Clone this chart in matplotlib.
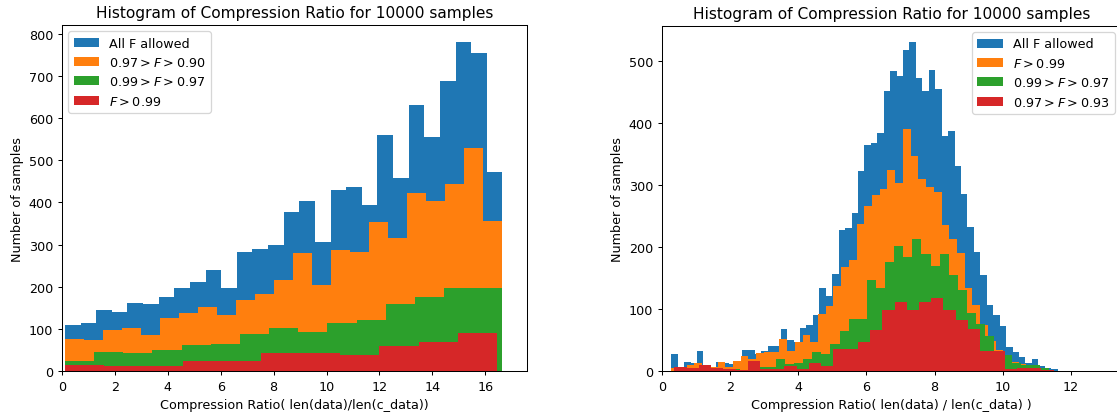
import numpy as np
import matplotlib
matplotlib.use("Agg")
import matplotlib.pyplot as plt


# left panel: counts per bin for each fidelity cut, and the (min, max) each was binned over
left_labels = ["All F allowed", r"$0.97 > F > 0.90$", r"$0.99 > F > 0.97$", r"$F > 0.99$"]
left_all = [109, 113, 145, 141, 162, 158, 176, 197, 211, 239, 197, 283, 290, 298,
            378, 403, 306, 429, 437, 394, 560, 459, 632, 556, 688, 780, 755, 472]
left_090 = [77, 73, 97, 103, 86, 126, 138, 153, 132, 169, 183, 217, 279, 205, 286,
            282, 354, 315, 422, 403, 444, 529, 355]
left_097 = [24, 45, 43, 49, 62, 63, 87, 102, 93, 113, 120, 159, 175, 196, 196]
left_099 = [15, 12, 12, 23, 23, 43, 43, 38, 59, 69, 89]
left_ranges = [(0.11, 16.65), (0.11, 16.65), (0.11, 16.65), (0.11, 16.45)]

# right panel
right_labels = ["All F allowed", r"$F > 0.99$", r"$0.99 > F > 0.97$", r"$0.97 > F > 0.93$"]
right_all = [27, 6, 14, 13, 33, 8, 6, 15, 13, 12, 15, 34, 34, 27, 33, 40, 40, 68, 50, 47,
             69, 74, 90, 134, 121, 156, 227, 230, 255, 323, 365, 367, 384, 452, 484, 476,
             517, 530, 473, 451, 485, 454, 379, 387, 330, 285, 232, 191, 155, 106, 91, 73,
             39, 30, 22, 13, 20, 8, 5, 3]
right_099 = [5, 6, 10, 13, 7, 6, 14, 7, 16, 24, 20, 29, 30, 31, 52, 33, 47, 58, 46, 92,
             105, 137, 168, 179, 237, 266, 284, 293, 324, 303, 390, 346, 309, 297, 289,
             235, 212, 190, 133, 107, 74, 48, 34, 15, 15, 12, 6, 3]
right_097 = [0, 1, 1, 3, 1, 1, 2, 3, 2, 2, 7, 7, 19, 11, 13, 20, 31, 28, 43, 65, 83, 84,
             147, 133, 175, 202, 184, 213, 188, 170, 188, 155, 130, 93, 75, 56, 33, 25,
             13, 10, 9, 5]
right_093 = [6, 5, 9, 5, 4, 2, 16, 4, 3, 8, 4, 13, 8, 35, 36, 47, 66, 98, 112, 98, 112,
             117, 99, 82, 68, 32, 32, 3, 5, 5, 2]
right_ranges = [(0.27, 11.61), (0.27, 11.15), (0.14, 11.35), (0.364, 11.49)]

colors = ["tab:blue", "tab:orange", "tab:green", "tab:red"]


def draw_hists(ax, series, ranges, labels):
    for counts, (lo, hi), lab, col in zip(series, ranges, labels, colors):
        edges = np.linspace(lo, hi, len(counts) + 1)
        ax.stairs(counts, edges, fill=True, color=col, label=lab)


def main():
    W, H, dpi = 1117, 416, 92
    fig = plt.figure(figsize=(W / dpi, H / dpi), dpi=dpi)

    # Left
    ax1 = fig.add_axes([62 / W, 44 / H, 465 / W, 346 / H])
    draw_hists(ax1, [left_all, left_090, left_097, left_099], left_ranges, left_labels)
    ax1.set_xlim(0, 17.58)
    ax1.set_ylim(0, 821)
    ax1.set_title("Histogram of Compression Ratio for 10000 samples")
    ax1.set_xlabel("Compression Ratio( len(data)/len(c_data))")
    ax1.set_ylabel("Number of samples")
    ax1.legend(loc="upper left")

    # Right
    ax2 = fig.add_axes([662 / W, 44 / H, 459 / W, 345 / H])
    draw_hists(ax2, [right_all, right_099, right_097, right_093], right_ranges, right_labels)
    ax2.set_xlim(0, 13.47)
    ax2.set_ylim(0, 556)
    ax2.set_title("Histogram of Compression Ratio for 10000 samples")
    ax2.set_xlabel("Compression Ratio( len(data) / len(c_data) )")
    ax2.set_ylabel("Number of samples")
    ax2.legend(loc="upper right")

    fig.savefig("out.png", dpi=dpi)


if __name__ == "__main__":
    main()
